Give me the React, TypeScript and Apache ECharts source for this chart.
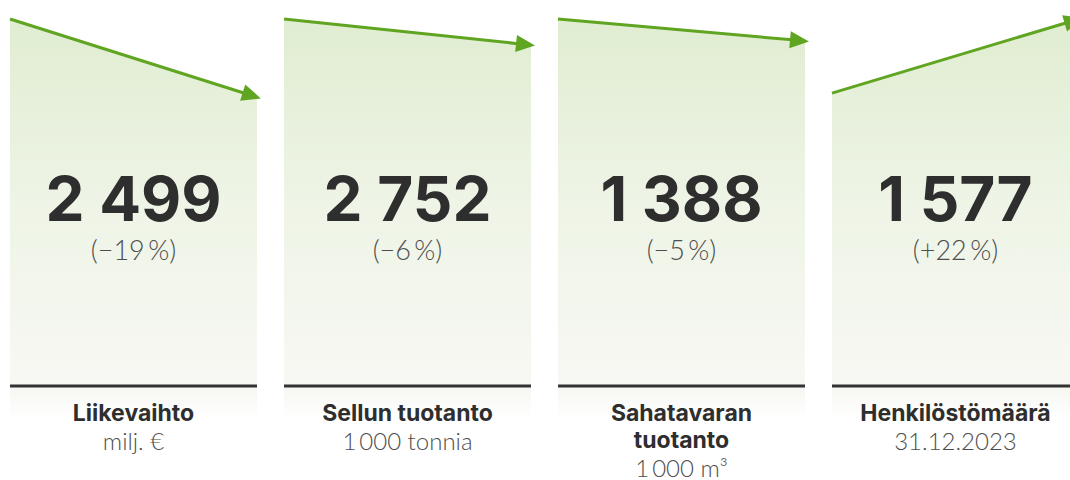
import React, { useEffect, useRef } from "react";
import * as echarts from "echarts";

// ---- data ----
const titleLines: string[][] = [
  ["Liikevaihto"],
  ["Sellun tuotanto"],
  ["Sahatavaran", "tuotanto"],
  ["Henkilöstömäärä"],
];
const units: string[] = ["milj. €", "1\u2009000 tonnia", "1\u2009000 m³", "31.12.2023"];
const values: number[] = [2499, 2752, 1388, 1577];
const changes: number[] = [-19, -6, -5, 22];
// decorative trend line levels (start / end) on a 0..100 scale
const trendStart: number[] = [100, 100, 100, 79.8];
const trendEnd: number[] = [78.7, 92.9, 94.0, 100];

// ---- layout constants ----
const PITCH = 274;
const PANEL_W = 247 / PITCH;
const GREEN = "#5fa521";
const DARK = "#2e2e2e";
const GREY = "#4e4e4e";

const fmtNum = (v: number) => {
  const s = String(v);
  return s.length > 3 ? s.slice(0, s.length - 3) + " " + s.slice(s.length - 3) : s;
};
const fmtChange = (c: number) => "(" + (c < 0 ? "\u2212" + Math.abs(c) : "+" + c) + "\u2009%)";

export default function App() {
  const ref = useRef<HTMLDivElement>(null);
  useEffect(() => {
    if (!ref.current) return;
    const chart = echarts.init(ref.current, null, { renderer: "svg" });

    const renderItem = (params: any, api: any) => {
      const i = params.dataIndex;
      const x0 = i;
      const x1 = i + PANEL_W;
      const t0 = api.coord([x0, trendStart[i]]);
      const t1 = api.coord([x1, trendEnd[i]]);
      const b0 = api.coord([x0, 0]);
      const b1 = api.coord([x1, 0]);
      const dx = t1[0] - t0[0];
      const dy = t1[1] - t0[1];
      const len = Math.hypot(dx, dy);
      const ux = dx / len;
      const uy = dy / len;
      const tip = [t1[0] + ux * 4, t1[1] + uy * 4];
      const hb = [tip[0] - ux * 19, tip[1] - uy * 19];
      const px = -uy;
      const py = ux;
      const cx = (b0[0] + b1[0]) / 2;
      const by = b0[1];
      const font = "Inter, 'Noto Sans', sans-serif";
      const light = "Lato, 'Noto Sans', sans-serif";

      const children: any[] = [
        {
          type: "polygon",
          shape: { points: [t0, t1, b1, b0] },
          style: {
            fill: new echarts.graphic.LinearGradient(0, 0, 0, 1, [
              { offset: 0, color: "#e0edd1" },
              { offset: 0.5, color: "#eef4e6" },
              { offset: 1, color: "#f7f8f3" },
            ]),
          },
        },
        {
          type: "rect",
          shape: { x: b0[0], y: by, width: b1[0] - b0[0], height: 34 },
          style: {
            fill: new echarts.graphic.LinearGradient(0, 0, 0, 1, [
              { offset: 0, color: "#f6f6f2" },
              { offset: 1, color: "#ffffff" },
            ]),
          },
        },
        {
          type: "line",
          shape: { x1: b0[0], y1: by, x2: b1[0], y2: by },
          style: { stroke: "#333333", lineWidth: 3 },
        },
        {
          type: "line",
          shape: { x1: t0[0], y1: t0[1], x2: hb[0] + ux * 2, y2: hb[1] + uy * 2 },
          style: { stroke: GREEN, lineWidth: 3 },
        },
        {
          type: "polygon",
          shape: {
            points: [
              tip,
              [hb[0] + px * 8.5, hb[1] + py * 8.5],
              [hb[0] - px * 8.5, hb[1] - py * 8.5],
            ],
          },
          style: { fill: GREEN },
        },
        {
          type: "text",
          style: {
            text: fmtNum(values[i]),
            x: cx,
            y: by - 188,
            fill: DARK,
            fontSize: 62,
            lineHeight: 50,
            fontWeight: 700,
            fontFamily: font,
            align: "center",
            verticalAlign: "middle",
          },
        },
        {
          type: "text",
          style: {
            text: fmtChange(changes[i]),
            x: cx,
            y: by - 137,
            fill: GREY,
            fontSize: 27,
            fontWeight: 300,
            fontFamily: light,
            align: "center",
            verticalAlign: "middle",
          },
        },
      ];
      const lines = titleLines[i];
      lines.forEach((ln, k) => {
        children.push({
          type: "text",
          style: {
            text: ln,
            x: cx,
            y: by + 27 + k * 27,
            fill: DARK,
            fontSize: 23,
            fontWeight: 700,
            fontFamily: font,
            align: "center",
            verticalAlign: "middle",
          },
        });
      });
      children.push({
        type: "text",
        style: {
          text: units[i],
          x: cx,
          y: by + 27 + lines.length * 27,
          fill: GREY,
          fontSize: 24,
          fontWeight: 300,
          fontFamily: light,
          align: "center",
          verticalAlign: "middle",
        },
      });
      return { type: "group", children };
    };

    chart.setOption({
      animation: false,
      backgroundColor: "#ffffff",
      grid: { left: 10, right: 0, top: 19, bottom: 94 },
      xAxis: { type: "value", min: 0, max: 1060 / PITCH, show: false },
      yAxis: { type: "value", min: 0, max: 100, show: false },
      series: [
        {
          type: "custom",
          renderItem,
          silent: true,
          clip: false,
          data: values.map((v, i) => [i, v]),
        },
      ],
    });
    return () => chart.dispose();
  }, []);
  return (
    <div
      ref={ref}
      style={{ position: "fixed", left: 0, top: 0, width: 1070, height: 480 }}
    />
  );
}
